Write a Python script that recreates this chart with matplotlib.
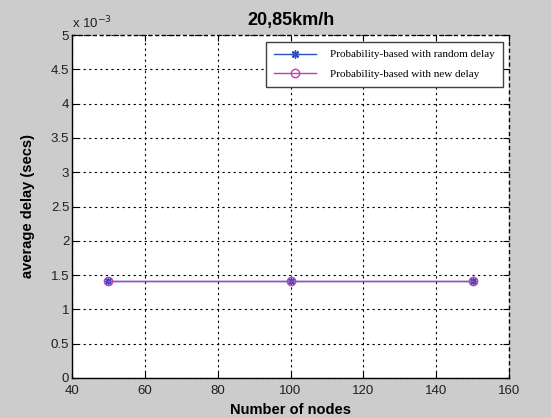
import matplotlib
matplotlib.use("Agg")
import matplotlib.pyplot as plt
from matplotlib.ticker import FuncFormatter, MultipleLocator

nodes = [50, 100, 150]
random_delay = [1.42e-3, 1.42e-3, 1.42e-3]
new_delay = [1.42e-3, 1.42e-3, 1.42e-3]
labels = ["Probability-based with random delay", "Probability-based with new delay"]
title = "20,85km/h"

fig = plt.figure(figsize=(5.51, 4.18), dpi=100, facecolor="#cccccc")
ax = fig.add_axes([72/551, 40/418, 437/551, 343/418])
ax.set_facecolor("white")

ax.plot(nodes, random_delay, color="#3050c0", marker=(8, 2, 0), markersize=6,
        mew=1.0, lw=1.0, label=labels[0], zorder=3)
ax.plot(nodes, new_delay, color="#c040b0", marker="o", markersize=6, mfc="none",
        mew=1.0, lw=1.0, label=labels[1], zorder=4)

ax.set_xlim(40, 160)
ax.set_ylim(0, 5e-3)
ax.xaxis.set_major_locator(MultipleLocator(20))
ax.yaxis.set_major_locator(MultipleLocator(0.5e-3))
ax.yaxis.set_major_formatter(FuncFormatter(lambda v, p: "%g" % round(v * 1e3, 3)))

ax.grid(True, color="black", linestyle=(0, (2, 3)), linewidth=0.8)
ax.tick_params(direction="in", length=4, top=True, right=True,
               labelsize=9.5, labelcolor="#202020")
ax.tick_params(axis="x", pad=5)
ax.tick_params(axis="y", pad=2)
for t in ax.get_xticklabels() + ax.get_yticklabels():
    t.set_fontfamily("Liberation Sans")
for s in ["top", "right"]:
    ax.spines[s].set_linestyle((0, (2, 3)))
for s in ax.spines.values():
    s.set_linewidth(1.0)

ax.set_title(title, fontsize=13, fontweight="bold", family="Liberation Sans", pad=7)
ax.set_xlabel("Number of nodes", fontsize=10.5, fontweight="bold",
              family="Liberation Sans", labelpad=4)
ax.set_ylabel("average delay (secs)", fontsize=10.5, fontweight="bold",
              family="Liberation Sans", labelpad=11)
ax.text(0.0, 1.012, r"x 10$^{-3}$", transform=ax.transAxes, fontsize=9.5,
        family="Liberation Sans", color="#202020", ha="left", va="bottom")

leg = ax.legend(loc="upper right", bbox_to_anchor=(0.986, 0.980), borderaxespad=0,
                fancybox=False, framealpha=1, edgecolor="#404040",
                prop={"family": "Liberation Serif", "size": 8},
                handlelength=3.8, borderpad=0.7, labelspacing=0.9, handletextpad=1.3)
leg.get_frame().set_linewidth(1.0)

fig.savefig("out.png", dpi=100, facecolor=fig.get_facecolor())
